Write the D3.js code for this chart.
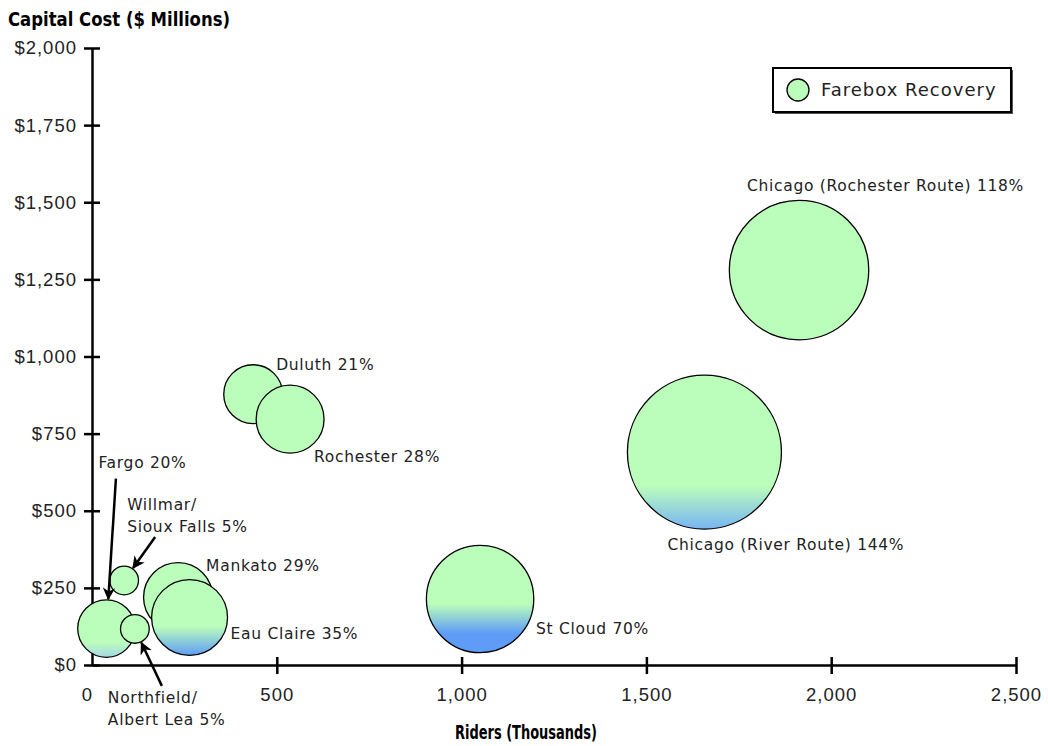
<!DOCTYPE html>
<html>
<head>
<meta charset="utf-8">
<script src="https://cdn.jsdelivr.net/npm/d3@7"></script>
<style>
  body { margin: 0; background: #fff; }
  svg { display: block; font-family: "DejaVu Sans", "Noto Sans", sans-serif; }
  .axis path, .axis line { stroke: #000; stroke-width: 2.5px; }
  .axis text { font-size: 18.5px; fill: #222; letter-spacing: 1px; }
  .bubble-label { font-size: 15.5px; fill: #222; letter-spacing: 0.7px; }
  .title { font-family: "Liberation Sans Narrow", "DejaVu Sans Condensed", sans-serif; font-weight: bold; font-size: 19px; fill: #000; }
</style>
</head>
<body>
<svg id="chart" width="1048" height="746"></svg>
<script>
// Proposed rail routes: ridership, capital cost, and farebox recovery (%)
const routes = ["Chicago (Rochester Route)", "Chicago (River Route)", "St Cloud", "Duluth", "Rochester",
                "Mankato", "Eau Claire", "Fargo", "Willmar/Sioux Falls", "Northfield/Albert Lea"];
const riders = [1913, 1657, 1050, 436, 536, 233, 264, 39, 87, 116];        // thousands
const capitalCost = [1280, 690, 214, 878, 797, 220, 154, 118, 274, 117];   // $ millions
const farebox = [118, 144, 70, 21, 28, 29, 35, 20, 5, 5];                  // percent

const xTicks = [0, 500, 1000, 1500, 2000, 2500];
const yTicks = [0, 250, 500, 750, 1000, 1250, 1500, 1750, 2000];

// Label placement relative to each bubble centre (px), with optional leader arrow tail
const labelLayout = {
  "Chicago (Rochester Route)": { dx: -52, dy: -79 },
  "Chicago (River Route)": { dx: -37, dy: 98 },
  "St Cloud": { dx: 56, dy: 35 },
  "Duluth": { dx: 23, dy: -24 },
  "Rochester": { dx: 24, dy: 43 },
  "Mankato": { dx: 28, dy: -26 },
  "Eau Claire": { dx: 41, dy: 22 },
  "Fargo": { dx: -8, dy: -161, tail: [9.5, -150] },
  "Willmar/Sioux Falls": { dx: 3, dy: -70, tail: [31, -43.5] },
  "Northfield/Albert Lea": { dx: -27, dy: 74, tail: [27, 57] }
};

// Blue shading toward the bottom of some bubbles: [fade start, full blue at, blue]
const shading = {
  "St Cloud": [0.55, 0.82, "#5f9cf8"],
  "Eau Claire": [0.62, 1.0, "#5f9cf8"],
  "Chicago (River Route)": [0.72, 1.0, "#78b4f4"],
  "Fargo": [0.74, 1.0, "#a6d8e6"]
};
const green = "#bbfdbb";

const svg = d3.select("#chart");
const x = d3.scaleLinear().domain([0, 2500]).range([92, 1016]);
const y = d3.scaleLinear().domain([0, 2000]).range([665, 48]);
const r = d3.scaleSqrt().domain([0, 144]).range([0, 77]);

const data = routes.map((name, i) => ({
  name, riders: riders[i], cost: capitalCost[i], pct: farebox[i], id: "g" + i
}));

// Gradients
const defs = svg.append("defs");
data.forEach(d => {
  const s = shading[d.name];
  const g = defs.append("linearGradient").attr("id", d.id)
    .attr("x1", 0).attr("y1", 0).attr("x2", 0).attr("y2", 1);
  if (s) {
    g.append("stop").attr("offset", 0).attr("stop-color", green);
    g.append("stop").attr("offset", s[0]).attr("stop-color", green);
    g.append("stop").attr("offset", s[1]).attr("stop-color", s[2]);
    g.append("stop").attr("offset", 1).attr("stop-color", s[2]);
  } else {
    g.append("stop").attr("offset", 0).attr("stop-color", green);
    g.append("stop").attr("offset", 1).attr("stop-color", green);
  }
});
defs.append("marker").attr("id", "arrow")
  .attr("viewBox", "0 0 10 10").attr("refX", 9).attr("refY", 5)
  .attr("markerWidth", 5).attr("markerHeight", 5).attr("markerUnits", "strokeWidth")
  .attr("orient", "auto")
  .append("path").attr("d", "M0,0 L10,5 L0,10 L3,5 Z").attr("fill", "#000");

// Axes
const yAxis = svg.append("g").attr("class", "axis").attr("transform", `translate(${x(0)},0)`)
  .call(d3.axisLeft(y).tickValues(yTicks).tickSizeOuter(0).tickSizeInner(8).tickPadding(8)
    .tickFormat(d => "$" + d3.format(",")(d)));
yAxis.selectAll(".tick line").attr("x1", 8).attr("x2", -8);
yAxis.selectAll(".tick text").attr("x", -15);

const xAxis = svg.append("g").attr("class", "axis").attr("transform", `translate(0,${y(0)})`)
  .call(d3.axisBottom(x).tickValues(xTicks).tickSizeOuter(0).tickSizeInner(8).tickPadding(16)
    .tickFormat(d3.format(",")));
xAxis.selectAll(".tick line").attr("y1", -8).attr("y2", 9);
xAxis.selectAll(".tick").filter(d => d === 0).select("line").remove();
xAxis.selectAll(".tick text").attr("y", 23);
xAxis.selectAll(".tick").filter(d => d === 0).select("text").attr("dx", -5);

// Axis titles
svg.append("text").attr("class", "title").attr("x", 8).attr("y", 26)
  .attr("textLength", 222).attr("lengthAdjust", "spacingAndGlyphs")
  .text("Capital Cost ($ Millions)");
svg.append("text").attr("class", "title").attr("x", 455).attr("y", 739)
  .attr("textLength", 142).attr("lengthAdjust", "spacingAndGlyphs")
  .text("Riders (Thousands)");

// Bubbles
svg.append("g").selectAll("circle").data(data).join("circle")
  .attr("cx", d => x(d.riders)).attr("cy", d => y(d.cost)).attr("r", d => r(d.pct))
  .attr("fill", d => `url(#${d.id})`).attr("stroke", "#000").attr("stroke-width", 1.3);

// Labels and leader arrows
const labels = svg.append("g");
data.forEach(d => {
  const L = labelLayout[d.name];
  const cx = x(d.riders), cy = y(d.cost);
  const parts = d.name.split("/");
  const t = labels.append("text").attr("class", "bubble-label")
    .attr("x", cx + L.dx).attr("y", cy + L.dy);
  if (parts.length > 1) {
    t.append("tspan").attr("x", cx + L.dx).text(parts[0] + "/");
    t.append("tspan").attr("x", cx + L.dx).attr("dy", 22).text(parts[1] + " " + d.pct + "%");
  } else {
    t.text(d.name + " " + d.pct + "%");
  }
  if (L.tail) {
    const [tx, ty] = L.tail;
    const len = Math.hypot(tx, ty), rad = r(d.pct) + 1;
    labels.append("line")
      .attr("x1", cx + tx).attr("y1", cy + ty)
      .attr("x2", cx + tx / len * rad).attr("y2", cy + ty / len * rad)
      .attr("stroke", "#000").attr("stroke-width", 2.5)
      .attr("marker-end", "url(#arrow)");
  }
});

// Legend
const legend = svg.append("g");
legend.append("rect").attr("x", 775).attr("y", 70).attr("width", 238).attr("height", 44).attr("fill", "#555");
legend.append("rect").attr("x", 773).attr("y", 68).attr("width", 238).attr("height", 44)
  .attr("fill", "#fff").attr("stroke", "#000").attr("stroke-width", 2);
legend.append("circle").attr("cx", 798).attr("cy", 90).attr("r", 11)
  .attr("fill", green).attr("stroke", "#000").attr("stroke-width", 1.3);
legend.append("text").attr("x", 821).attr("y", 90).attr("dy", "0.35em")
  .style("font-size", "18px").style("letter-spacing", "1px").attr("fill", "#222").text("Farebox Recovery");
</script>
</body>
</html>
